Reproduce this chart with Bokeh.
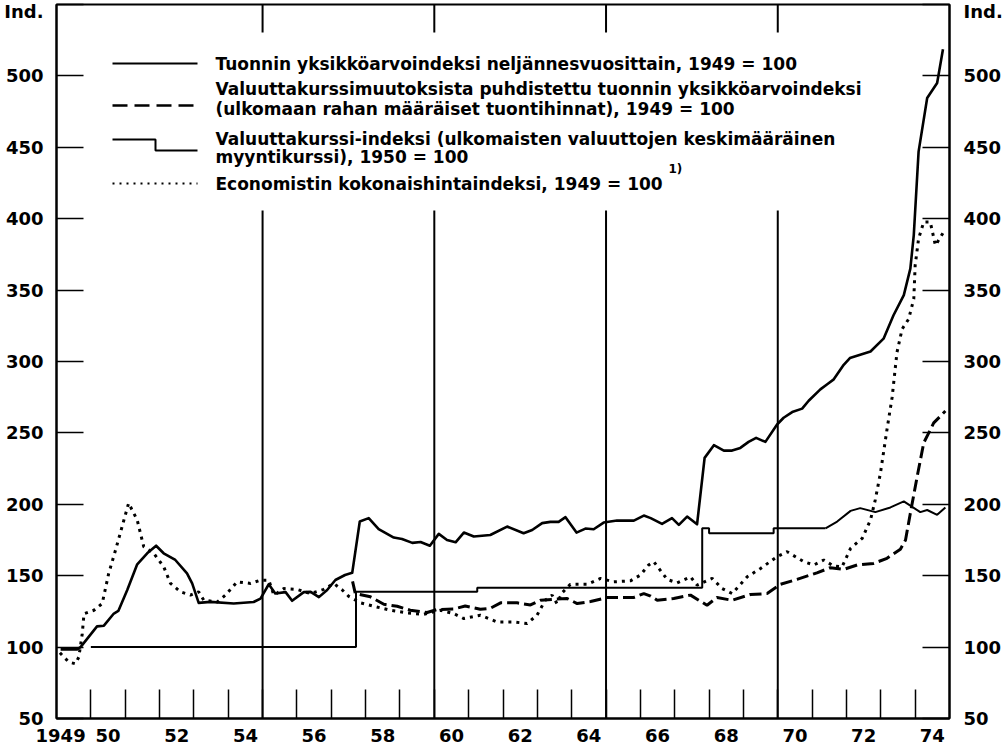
from bokeh.plotting import figure
from bokeh.models import LinearAxis, FixedTicker, Label, Range1d
from bokeh.embed import file_html
from bokeh.resources import INLINE

# ---------------- data ----------------
# Tuonnin yksikköarvoindeksi neljännesvuosittain, 1949 = 100
imp_t = [1949.12, 1949.6, 1949.7, 1950.18, 1950.38, 1950.67, 1950.8, 1951.06, 1951.35, 1951.64,
         1951.9, 1952.12, 1952.46, 1952.8, 1952.95, 1953.14, 1953.48, 1954.16, 1954.74, 1954.94,
         1955.18, 1955.37, 1955.67, 1955.86, 1956.2, 1956.4, 1956.64, 1956.88, 1957.12, 1957.4,
         1957.61, 1957.83, 1958.09, 1958.38, 1958.82, 1959.06, 1959.36, 1959.6, 1959.87, 1960.13,
         1960.37, 1960.62, 1960.86, 1961.15, 1961.63, 1962.12, 1962.6, 1962.85, 1963.14, 1963.38,
         1963.62, 1963.82, 1964.14, 1964.4, 1964.64, 1964.93, 1965.32, 1965.81, 1966.1, 1966.3,
         1966.63, 1966.92, 1967.12, 1967.36, 1967.65, 1967.87, 1968.14, 1968.43, 1968.67, 1968.91,
         1969.15, 1969.37, 1969.64, 1969.98, 1970.17, 1970.42, 1970.71, 1970.9, 1971.24, 1971.44,
         1971.63, 1971.92, 1972.1, 1972.7, 1973.08, 1973.37, 1973.67, 1973.86, 1973.96, 1974.1,
         1974.35, 1974.64, 1974.81]
imp_v = [98.4, 98.4, 100, 114.5, 115, 123.5, 125.3, 140, 158, 165.7,
         171, 165.7, 161, 151.6, 144.6, 131, 131.7, 130.5, 131.6, 134,
         144, 137.5, 138.5, 132.4, 138.5, 138.7, 135, 140, 147, 150.5,
         152, 188, 190.3, 182.6, 176.7, 175.7, 173, 173.6, 171, 179.3,
         175, 173.4, 180.2, 177.4, 178.5, 184.4, 179.7, 182, 186.8, 187.7,
         187.7, 191, 180.2, 183, 182.5, 187.2, 188.6, 188.6, 192.1, 190.3,
         186.3, 190.3, 185.6, 191.4, 186, 232.5, 241.4, 237.6, 237.6, 239.5,
         243.7, 246.5, 243.7, 255.9, 260.6, 264.6, 267, 272.5, 280.5, 284.1,
         287.5, 297.7, 302.4, 307, 316, 332.4, 346.5, 365, 388.5, 447,
         484.5, 495, 518.6]

# Valuuttakurssimuutoksista puhdistettu tuonnin yksikköarvoindeksi
adj_t = [1957.62, 1957.7, 1958.14, 1958.53, 1958.92, 1959.3, 1959.79, 1960.08, 1960.57, 1960.9,
         1961.34, 1961.63, 1961.93, 1962.41, 1962.8, 1963.09, 1963.48, 1963.87, 1964.16, 1964.55,
         1965.03, 1965.52, 1965.8, 1966.1, 1966.3, 1966.49, 1966.97, 1967.46, 1967.94, 1968.23,
         1968.67, 1969.2, 1969.69, 1970.08, 1970.56, 1971.14, 1971.53, 1971.92, 1972.31, 1972.79,
         1973.18, 1973.57, 1973.72, 1973.86, 1974.06, 1974.25, 1974.54, 1974.88]
adj_v = [146, 137.5, 135.2, 130, 128.6, 125.8, 124.2, 126.3, 126.7, 128.8,
         126.5, 127.2, 131, 131, 129.5, 132.8, 133.5, 134, 130.5, 131.9,
         134.7, 134.7, 134.7, 137.5, 135.7, 132.8, 134, 136.4, 129.3, 134.7,
         132.8, 136.8, 137.5, 144, 147.4, 152, 155.6, 154.4, 157.5, 158.6,
         162.2, 168.5, 175, 193.8, 219.6, 243, 257, 265.3]

# Valuuttakurssi-indeksi, 1950 = 100 : fixed-rate steps, then floating
fx_step_t = [1950.0, 1957.72, 1961.25, 1967.8, 1968.0, 1969.88, 1971.39]
fx_step_v = [100, 138.7, 141.5, 183.2, 179.7, 183.2, 183.2]
fx_float_t = [1971.39, 1971.73, 1972.12, 1972.4, 1972.84, 1973.28, 1973.67, 1974.15, 1974.35,
              1974.64, 1974.88]
fx_float_v = [183.2, 187.9, 195.4, 197.3, 194.5, 197.8, 202, 194.5, 196, 192.6, 197.8]

# Economistin kokonaishintaindeksi, 1949 = 100
eco_t = [1949.1, 1949.17, 1949.36, 1949.55, 1949.65, 1949.75, 1949.8, 1950.09, 1950.33, 1950.52,
         1950.72, 1950.91, 1951.1, 1951.35, 1951.54, 1951.83, 1952.12, 1952.32, 1952.61, 1952.9,
         1953.14, 1953.29, 1953.68, 1953.92, 1954.26, 1954.65, 1954.94, 1955.18, 1955.33, 1955.62,
         1956.0, 1956.39, 1956.78, 1957.07, 1957.32, 1957.51, 1957.85, 1958.24, 1958.72, 1959.21,
         1959.69, 1960.18, 1960.57, 1960.86, 1961.34, 1961.83, 1962.31, 1962.7, 1962.99, 1963.23,
         1963.43, 1963.57, 1963.72, 1963.96, 1964.45, 1964.84, 1965.22, 1965.71, 1966.0, 1966.24,
         1966.39, 1966.78, 1967.07, 1967.46, 1967.65, 1968.09, 1968.38, 1968.67, 1969.11, 1969.5,
         1969.98, 1970.27, 1970.76, 1971.05, 1971.34, 1971.63, 1971.87, 1972.12, 1972.46, 1972.7,
         1972.84, 1972.99, 1973.18, 1973.33, 1973.47, 1973.62, 1973.81, 1973.96, 1974.0, 1974.1,
         1974.25, 1974.44, 1974.59, 1974.83]
eco_v = [96, 94.2, 89.5, 88.3, 93, 109.4, 123.4, 125.8, 130.5, 151.6,
         168, 184.4, 200.8, 189, 170.3, 165.7, 156.3, 144.6, 138.7, 136.4,
         138.7, 132.8, 131.6, 136.4, 145.7, 144.6, 146.9, 146.9, 136.4, 141,
         140.4, 137.5, 140.4, 144.6, 140, 135.5, 131, 128.6, 125.8, 123.9,
         123, 125.8, 123.4, 120, 122.3, 117.6, 117.6, 116.5, 122.3, 132.8,
         136.4, 130.5, 138, 143.9, 144, 148.1, 145.7, 146.4, 150.4, 157.5,
         159.8, 147.4, 145, 149.2, 143.4, 148.1, 141, 137.5, 149.2, 155.1,
         163.3, 166.8, 159.8, 157.5, 161, 156.7, 156.2, 169.2, 176.2, 189.1,
         203.2, 222, 252.4, 275, 306.3, 322.7, 329.7, 343.8, 367.2, 386,
         397.7, 397.7, 381.3, 390.7]

# axes / labels
y_ticks = [50, 100, 150, 200, 250, 300, 350, 400, 450, 500]
y_caption = "Ind."
x_year_ticks = list(range(1950, 1975))
x_label_pos = [1949.12, 1950.5, 1952.5, 1954.5, 1956.5, 1958.5, 1960.5, 1962.5, 1964.5,
               1966.5, 1968.5, 1970.5, 1972.5, 1974.5]
x_label_text = ["1949", "50", "52", "54", "56", "58", "60", "62", "64", "66", "68", "70", "72", "74"]
guide_years = [1955, 1960, 1965, 1970]

legend_texts = [
    ["Tuonnin yksikköarvoindeksi neljännesvuosittain, 1949 = 100"],
    ["Valuuttakurssimuutoksista puhdistettu tuonnin yksikköarvoindeksi",
     "(ulkomaan rahan määräiset tuontihinnat), 1949 = 100"],
    ["Valuuttakurssi-indeksi (ulkomaisten valuuttojen keskimääräinen",
     "myyntikurssi), 1950 = 100"],
    ["Economistin kokonaishintaindeksi, 1949 = 100"],
]

# ---------------- layout helpers (picture pixel -> data, layout only) ----------------
X_LO, X_HI, Y_LO, Y_HI = 1949, 1975, 50, 550
FL, FR, FT, FB = 56, 949, 4, 718          # frame edges in picture pixels
W, H = 1007, 752
PXY = (FR - FL) / (X_HI - X_LO)
PYV = (FB - FT) / (Y_HI - Y_LO)
def xd(px):
    return X_LO + (px - FL) / PXY
def yd(py):
    return Y_LO + (FB - py) / PYV

FONT = "DejaVu Sans"

p = figure(width=W, height=H, x_range=Range1d(X_LO, X_HI), y_range=Range1d(Y_LO, Y_HI),
           output_backend="svg", toolbar_location=None,
           min_border_left=FL, min_border_right=W - FR, min_border_top=FT, min_border_bottom=H - FB)
p.xgrid.visible = False
p.ygrid.visible = False
p.outline_line_color = "black"
p.outline_line_width = 2
p.background_fill_color = "white"
p.border_fill_color = "white"

def style_y(ax):
    # the "Ind." caption sits at the top edge of the frame (its tick hides in the border);
    # the trailing blank line keeps the caption just below the edge, as in the original
    ax.ticker = FixedTicker(ticks=y_ticks + [Y_HI])
    ax.major_label_overrides = {Y_HI: y_caption + "\n"}
    ax.major_tick_in = 27
    ax.major_tick_out = 0
    ax.minor_tick_in = 0
    ax.minor_tick_out = 0
    ax.major_tick_line_width = 1.5
    ax.axis_line_width = 2
    ax.major_label_text_font = FONT
    ax.major_label_text_font_style = "bold"
    ax.major_label_text_font_size = "18px"
    ax.major_label_text_color = "black"

style_y(p.yaxis[0])
p.yaxis[0].major_label_standoff = 13
ry = LinearAxis()
style_y(ry)
ry.major_label_standoff = 14
p.add_layout(ry, "right")

xa = p.xaxis[0]
xa.ticker = FixedTicker(ticks=x_label_pos, minor_ticks=x_year_ticks)
xa.major_label_overrides = dict(zip(x_label_pos, x_label_text))
xa.major_tick_in = 0
xa.major_tick_out = 0
xa.major_tick_line_color = None
xa.minor_tick_in = 29
xa.minor_tick_out = 0
xa.minor_tick_line_width = 1.5
xa.minor_tick_line_color = "black"
xa.axis_line_width = 2
xa.major_label_text_font = FONT
xa.major_label_text_font_style = "bold"
xa.major_label_text_font_size = "18px"
xa.major_label_text_color = "black"
xa.major_label_standoff = 10

# long guide lines at 1955, 1960, 1965, 1970 (broken by the legend)
gap_lo, gap_hi = yd(210), yd(32)
n = len(guide_years)
p.segment(x0=guide_years, y0=[Y_LO] * n, x1=guide_years, y1=[gap_lo] * n,
          line_color="black", line_width=2)
p.segment(x0=guide_years, y0=[gap_hi] * n, x1=guide_years, y1=[Y_HI] * n,
          line_color="black", line_width=2)

# ---------------- series ----------------
p.line(imp_t, imp_v, line_color="black", line_width=2.6, line_join="round")
p.line(adj_t, adj_v, line_color="black", line_width=3, line_dash="12 5")
p.step(fx_step_t, fx_step_v, mode="after", line_color="black", line_width=2)
p.line(fx_float_t, fx_float_v, line_color="black", line_width=2)
p.line(eco_t, eco_v, line_color="black", line_width=3, line_dash="3 5")

# ---------------- legend ----------------
lx0, lxm, lx1 = xd(112), xd(155), xd(197)
p.line([lx0, lx1], [yd(63)] * 2, line_color="black", line_width=2)
p.line([lx0, lx1], [yd(105)] * 2, line_color="black", line_width=2.5, line_dash="15 7")
p.line([lx0, lxm, lxm, lx1], [yd(139), yd(139), yd(150), yd(150)], line_color="black", line_width=2)
p.line([lx0, lx1], [yd(183)] * 2, line_color="black", line_width=2, line_dash="2 5")

text_rows = [[63], [88, 108], [138, 156], [183]]
tx = xd(215)
for lines, rows in zip(legend_texts, text_rows):
    for t, r in zip(lines, rows):
        p.add_layout(Label(x=tx, y=yd(r), text=t, text_font=FONT, text_font_style="bold",
                           text_font_size="17px", text_align="left", text_baseline="middle",
                           text_color="black"))
p.add_layout(Label(x=xd(668), y=yd(168), text="1)", text_font=FONT, text_font_style="bold",
                   text_font_size="12px", text_align="left", text_baseline="middle",
                   text_color="black"))

open("out.html", "w").write(file_html(p, INLINE))
